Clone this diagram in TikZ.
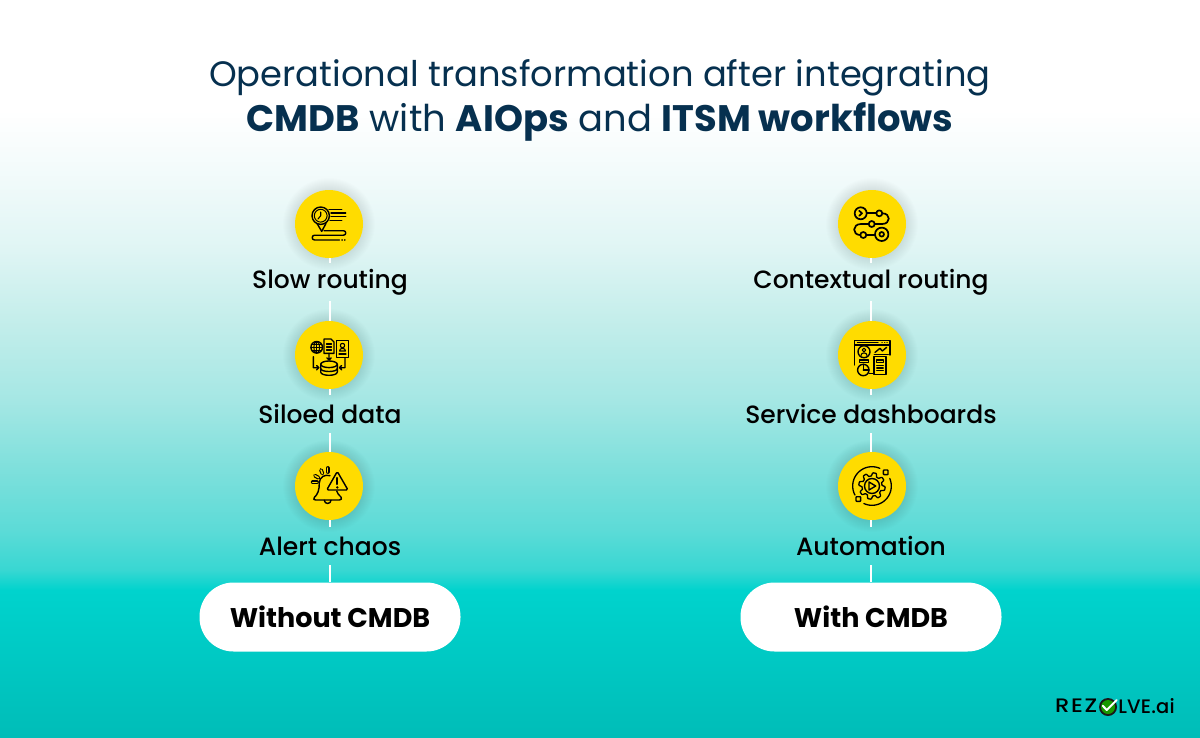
\documentclass[tikz,border=0pt]{standalone}
\usepackage{fontspec}
\setmainfont{Poppins}
\newfontfamily\medfont{Poppins Medium}
\newfontfamily\logofont{Poppins Medium}[LetterSpace=7]
\newfontfamily\logofontb{Poppins Medium}[LetterSpace=1]
\usetikzlibrary{calc}
\definecolor{titleblue}{HTML}{06304F}
\definecolor{ringyellow}{HTML}{FFDC00}
\definecolor{s0}{HTML}{FFFFFF}
\definecolor{s1}{HTML}{FFFFFF}
\definecolor{s2}{HTML}{F0FAFA}
\definecolor{s3}{HTML}{DFF5F4}
\definecolor{s4}{HTML}{C5EEEB}
\definecolor{s5}{HTML}{A5E7E4}
\definecolor{s6}{HTML}{7FE0DC}
\definecolor{s7}{HTML}{5CDBD7}
\definecolor{s8}{HTML}{38D7D2}
\definecolor{s9}{HTML}{00D3CD}
\definecolor{s10}{HTML}{00BDB8}
\pgfdeclareverticalshading{bggrad}{100bp}{
  color(0bp)=(s10);
  color(25bp)=(s10);
  color(34.97bp)=(s9);
  color(36.33bp)=(s8);
  color(39.04bp)=(s7);
  color(43.32bp)=(s6);
  color(47.86bp)=(s5);
  color(53.49bp)=(s4);
  color(58.04bp)=(s3);
  color(62.58bp)=(s2);
  color(67.54bp)=(s1);
  color(75bp)=(s0);
  color(100bp)=(s0)
}
\tikzset{
  x=1pt,y=-1pt,
  iconcircle/.style={circle,fill=ringyellow,minimum size=68pt,inner sep=0pt},
  steplabel/.style={font=\medfont\fontsize{25}{28}\selectfont,text=black,inner sep=0pt,minimum height=38pt,anchor=center},
  pill/.style={rounded corners=34pt,fill=white,minimum width=261pt,minimum height=69pt,inner sep=0pt,font=\bfseries\fontsize{27}{30}\selectfont,text=black},
  link/.style={draw=white,line width=1.6pt},
  ico/.style={draw=black,line width=1.4pt,fill=none,line cap=round,line join=round},
  titletext/.style={text=titleblue,font=\fontsize{35.3}{40}\selectfont},
}
\newcommand{\glow}[2]{%
  \foreach \r in {35,36,...,46}{\fill[black,opacity=.006] (#1,#2) circle (\r);}%
}
\begin{document}
\begin{tikzpicture}
\useasboundingbox (0,0) rectangle (1200,737);
\shade[shading=bggrad] (0,0) rectangle (1200,737);
\node[titletext] (t1) at (600,78) {Operational transformation after integrating};
\node[titletext,font=\fontsize{36.9}{40}\selectfont] (t2) at (600,122) {\textbf{CMDB} with \textbf{AIOps} and \textbf{ITSM workflows}};
\foreach \x in {329,872}{\foreach \y in {224,355,486}{\glow{\x}{\y}}}
% left
\node[iconcircle] (a1) at (329,224) {};
\node[iconcircle] (a2) at (329,355) {};
\node[iconcircle] (a3) at (329,486) {};
\node[steplabel] (la1) at (330,282) {Slow routing};
\node[steplabel] (la2) at (330,414) {Siloed data};
\node[steplabel] (la3) at (330,546) {Alert chaos};
\node[pill] (pa) at (330,617) {Without CMDB};
% right
\node[iconcircle] (b1) at (872,224) {};
\node[iconcircle] (b2) at (872,355) {};
\node[iconcircle] (b3) at (872,486) {};
\node[steplabel] (lb1) at (871,282) {Contextual routing};
\node[steplabel] (lb2) at (871,414) {Service dashboards};
\node[steplabel] (lb3) at (871,546) {Automation};
\node[pill] (pb) at (871,617) {With CMDB};
\foreach \p/\q in {a1/la1,la1/a2,a2/la2,la2/a3,a3/la3,la3/pa}{\draw[link] ($(\p.south -| pa.north)$) -- ($(\q.north -| pa.north)$);}
\foreach \p/\q in {b1/lb1,lb1/b2,b2/lb2,lb2/b3,b3/lb3,lb3/pb}{\draw[link] ($(\p.south -| pb.north)$) -- ($(\q.north -| pb.north)$);}
% icon 1: slow routing
\begin{scope}[shift={(329,224)}]
\draw[ico] (-8.3,-8.3) circle (8.7);
\draw[ico,line width=1pt] (-8.3,-8.3) circle (6.4);
\draw[ico,line width=1.1pt] (-8.3,-8.3) -- (-8.3,-12) (-8.3,-8.3) -- (-11,-5);
\draw[ico] (-12,-0.6) -- (-7.3,7.4) -- (-3,-0.6);
\draw[ico] (0,-14.7) -- (12.7,-14.7) (2,-11) -- (16.7,-11) (2,-7.3) -- (16.7,-7.3) (1,-3.3) -- (12.7,-3.3);
\draw[ico] (-5,6.7) -- (14.5,6.7) .. controls (17.5,6.7) and (17.5,11.2) .. (14.5,11.2) -- (-14.5,11.2) .. controls (-17.5,11.2) and (-17.5,16) .. (-14.5,16) -- (10.5,16);
\draw[ico] (13,16) -- (13.2,16) (15.7,16) -- (15.9,16);
\end{scope}
% icon 2: siloed data
\begin{scope}[shift={(329,355)}]
\draw[ico] (-12.3,-7.7) circle (5.8);
\draw[ico,line width=1pt] (-18,-7.7) -- (-6.6,-7.7) (-12.3,-13.4) -- (-12.3,-2);
\draw[ico,line width=1pt] (-12.3,-7.7) ellipse (2.8 and 5.8);
\draw[ico,line width=1pt] (-17,-10.5) -- (-7.6,-10.5) (-17,-4.9) -- (-7.6,-4.9);
\draw[ico] (-5,-16) -- (2,-16) -- (5,-13) -- (5,-1.7) -- (-5,-1.7) -- cycle;
\draw[ico,line width=1.1pt] (-2.5,-11) -- (2.5,-11) (-2.5,-8) -- (2.5,-8) (-2.5,-5) -- (2.5,-5);
\draw[ico] (7.7,-14.3) rectangle (19.3,2.3);
\draw[ico,line width=1.1pt] (13.5,-9.5) circle (2.2);
\draw[ico,line width=1.1pt] (10.5,-4) .. controls (10.5,-7.5) and (16.5,-7.5) .. (16.5,-4) -- cycle;
\draw[ico,line width=1.1pt] (10,-1) -- (17,-1);
\draw[ico] (0,-1.7) -- (0,5) (-2.2,2.8) -- (0,5) -- (2.2,2.8);
\draw[ico] (0,9.3) ellipse (8.3 and 3.3);
\draw[ico] (-8.3,9.3) -- (-8.3,17) .. controls (-8.3,21.4) and (8.3,21.4) .. (8.3,17) -- (8.3,9.3);
\draw[ico] (-8.3,13.5) .. controls (-8.3,17.5) and (8.3,17.5) .. (8.3,13.5);
\draw[ico] (-15.7,1.7) -- (-15.7,12.7) -- (-10.2,12.7) (-12.4,10.5) -- (-10.2,12.7) -- (-12.4,14.9);
\draw[ico] (16,3.3) -- (16,12.7) -- (10.5,12.7) (12.7,10.5) -- (10.5,12.7) -- (12.7,14.9);
\end{scope}
% icon 3: alert chaos
\begin{scope}[shift={(329,486)}]
\draw[ico] (1,-10.3) .. controls (-4,-12) and (-9.7,-9) .. (-9.7,-3) .. controls (-9.7,4) and (-11,8) .. (-14.7,11.5) .. controls (-16,13) and (-15,14) .. (-13.5,14) -- (10.5,14) .. controls (12.5,14) and (13,12.5) .. (12,11) .. controls (10,9.5) and (8.5,7.5) .. (7.7,5);
\draw[ico] (-4.7,14.2) .. controls (-4.7,18.5) and (2,18.5) .. (2,14.2);
\draw[ico,rounded corners=1.5pt] (8.3,-14.5) -- (-2.3,4) -- (19,4) -- cycle;
\draw[ico,line width=2.3pt] (8.3,-8) -- (8.3,-2);
\fill (8.3,1.4) circle (1.3);
\foreach \a/\b/\c/\d in {-16.3/-3.7/-12/-3.7, -14/-10.3/-10.5/-8.3, -8/-16/-6.6/-12.5, -1.3/-18/-1.3/-14}{
  \draw[black,line width=3.8pt,line cap=round] (\a,\b) -- (\c,\d);
  \draw[ringyellow,line width=1.5pt,line cap=round] (\a,\b) -- (\c,\d);
}
\end{scope}
% icon 4: contextual routing
\begin{scope}[shift={(872,224)}]
\tikzset{ico/.append style={line width=1.7pt}}
\draw[ico] (-11.3,-10.7) circle (6);
\draw[ico] (-12.8,-13.2) -- (-10,-10.7) -- (-12.8,-8.2);
\draw[ico] (-5.3,-10.7) -- (4.3,-10.7);
\draw[ico] (7.3,-10.7) circle (3);
\draw[ico] (10.3,-10.7) .. controls (19,-10.7) and (19,0) .. (10,0) -- (2.7,0);
\draw[ico] (-0.3,0) circle (3);
\draw[ico] (-3.3,0) -- (-11,0) .. controls (-20,0) and (-20,11) .. (-11.7,11);
\draw[ico] (-8.7,11) circle (3);
\draw[ico] (-5.7,11) -- (3,11);
\draw[ico] (9.7,10.3) circle (6.7);
\draw[ico] (9.7,10.3) circle (2.3);
\end{scope}
% icon 5: service dashboards
\begin{scope}[shift={(872,355)}]
\draw[ico] (-17.7,-14.3) rectangle (18,-10);
\draw[ico] (-17.7,-10) -- (-17.7,10) (18,-10) -- (18,0);
\draw[ico,line width=1.1pt] (-14.5,-12.2) -- (6,-12.2);
\draw[ico,line width=1.1pt] (10,-12.2) -- (10.2,-12.2) (12.6,-12.2) -- (12.8,-12.2) (15,-12.2) -- (15.2,-12.2);
\draw[ico] (-8,-3.3) circle (6);
\draw[ico,line width=1.1pt] (-8,-5) circle (1.8);
\draw[ico,line width=1.1pt] (-11,0.5) .. controls (-11,-3) and (-5,-3) .. (-5,0.5);
\draw[ico] (-12.7,5) rectangle (-3.7,7.3);
\draw[ico] (3,-2.6) -- (8,-6.7) -- (10.3,-4) -- (14.7,-7.7);
\draw[ico] (2.3,-0.7) -- (16.3,-0.7);
\draw[ico] (2,1.7) rectangle (14,19.3);
\draw[ico,line width=1.1pt] (4.7,5) rectangle (11.3,7.6);
\draw[ico,line width=1.1pt] (4.7,10.5) -- (11.3,10.5) (4.7,13) -- (11.3,13) (4.7,15.5) -- (11.3,15.5);
\draw[ico] (-8.7,15) circle (5.7);
\draw[ico] (-8.7,15) -- (-8.7,9.3) (-8.7,15) -- (-3,15);
\draw[ico] (-3,18.5) -- (2,18.5);
\end{scope}
% icon 6: automation
\begin{scope}[shift={(872,486)}]
\draw[ico,line width=1.3pt] plot[domain=152:294,samples=40] ({19.3*cos(\x)},{19.3*sin(\x)});
\draw[ico,line width=1.3pt] plot[domain=-23:115,samples=40] ({19.3*cos(\x)},{19.3*sin(\x)});
\draw[ico,rounded corners=0.6pt] (11.4,-16) rectangle (16,-11.4);
\draw[ico,rounded corners=0.6pt] (-16,10.7) rectangle (-11.4,15.3);
\draw[ico] (0,0) circle (7.5);
\draw[ico] (-3,-4) -- (3.7,0) -- (-3,4) -- cycle;
\draw[ico,line width=1.3pt] plot[domain=0:360,samples=145] ({(11.6+1.6*max(-1,min(1,2*sin(8*\x))))*cos(\x)},{(11.6+1.6*max(-1,min(1,2*sin(8*\x))))*sin(\x)}) -- cycle;
\end{scope}
% logo
\node[anchor=west,inner sep=0pt,font=\logofont\fontsize{19.5}{22}\selectfont,text=black] (logo1) at (1055,706) {\scalebox{1.16}[1]{REZ}};
\node[anchor=east,inner sep=0pt,font=\logofontb\fontsize{19.5}{22}\selectfont,text=black] (logo2) at (1175,706) {LVE.ai};
\fill[black!90] (1108,707) circle (9);
\fill[green!55!black!90!yellow] (1108,707) circle (7);
\draw[white,line width=2pt,line cap=round,line join=round] (1102.7,705.7) -- (1106.7,710) -- (1116.7,700);
\end{tikzpicture}
\end{document}
